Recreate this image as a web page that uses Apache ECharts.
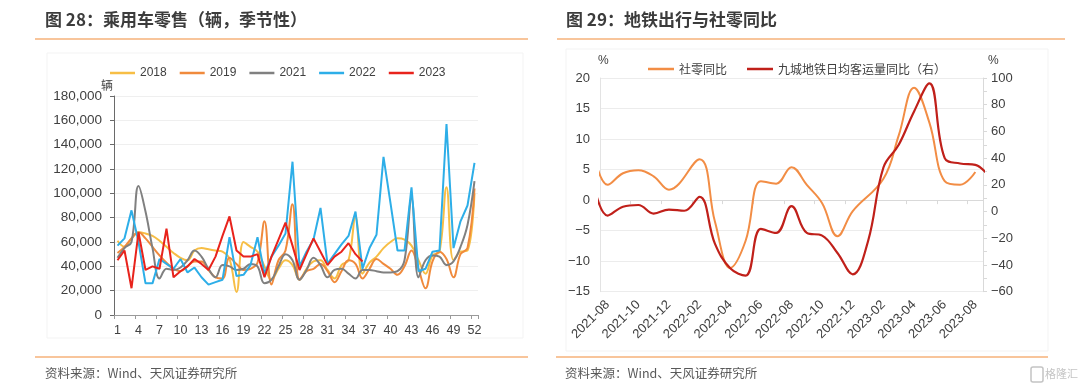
<!DOCTYPE html>
<html><head><meta charset="utf-8">
<script src="https://cdn.jsdelivr.net/npm/echarts@6/dist/echarts.min.js"></script>
<style>html,body{margin:0;padding:0;background:#fff}#c{width:1080px;height:392px}</style>
</head><body><div id="c"></div>
<script>
// ---------- Left chart data (辆) ----------
const weeks = ['1','2','3','4','5','6','7','8','9','10','11','12','13','14','15','16','17','18','19','20','21','22','23','24','25','26','27','28','29','30','31','32','33','34','35','36','37','38','39','40','41','42','43','44','45','46','47','48','49','50','51','52'];
const sales2018 = [61000,56000,63000,68000,67000,65000,61000,56000,51000,47000,45000,53000,55000,54000,53000,52000,46000,19000,60000,56000,52000,40000,29000,38000,45000,41000,29000,38000,44000,45000,37000,30000,41000,45000,81000,34000,43000,48000,55000,60000,63000,62000,57000,45000,34000,49000,52000,105000,45000,52000,53000,100000];
const sales2019 = [51000,56000,63000,68000,63000,56000,49000,43000,38000,36000,40000,44000,44000,37000,31000,30000,47000,42000,37000,38000,43000,77000,25000,45000,53000,91000,29000,36000,38000,42000,36000,27000,36000,45000,42000,30000,38000,46000,42000,38000,33000,40000,53000,38000,22000,44000,52000,46000,31000,50000,55000,104000];
const sales2021 = [47000,55000,60000,106000,85000,55000,30000,38000,37000,39000,45000,53000,48000,38000,31000,41000,40000,37000,38000,42000,40000,26000,29000,40000,50000,45000,29000,37000,47000,41000,31000,37000,38000,34000,30000,37000,37000,36000,35000,35000,36000,45000,96000,31000,45000,49000,48000,41000,44000,56000,74000,110000];
const sales2022 = [57000,63000,86000,60000,26000,26000,46000,42000,38000,46000,35000,39000,31000,25000,27000,29000,64000,32000,33000,41000,64000,34000,48000,57000,67000,126000,40000,52000,62000,88000,42000,50000,58000,65000,85000,38000,55000,66000,130000,92000,53000,53000,105000,36000,38000,52000,53000,157000,55000,77000,90000,125000];
const sales2023 = [45000,53000,22000,68000,37000,40000,38000,71000,31000,36000,40000,46000,42000,37000,48000,65000,81000,53000,48000,48000,50000,31000,48000,62000,76000,57000,37000,50000,63000,52000,41000,48000,52000,59000,50000,44000,null,null,null,null,null,null,null,null,null,null,null,null,null,null,null,null];
const yearNames = ['2018','2019','2021','2022','2023'];

// ---------- Right chart data (%) ----------
const months = ['2021-07','2021-08','2021-09','2021-10','2021-11','2021-12','2022-01','2022-02','2022-03','2022-04','2022-05','2022-06','2022-07','2022-08','2022-09','2022-10','2022-11','2022-12','2023-01','2023-02','2023-03','2023-04','2023-05','2023-06','2023-07','2023-08','2023-09'];
const retailYoY = [8.5,2.5,4.4,4.9,3.9,1.7,null,6.7,-3.5,-11.1,-6.7,3.1,2.7,5.4,2.5,-0.5,-5.9,-1.8,null,3.5,10.6,18.4,12.7,3.1,2.5,4.6];
const metroYoY = [25,-3,3.6,4.9,-1.5,1.5,0.6,11,-24,-42.5,-48,-13,-16,4,-16,-18,-31,-47,-22,33,50,75,96,40,36,35,25];
const labelIdx = [1,3,5,7,9,11,13,15,17,19,21,23,25];
const tickIdx = [0.5,2.5,4.5,6.5,8.5,10.5,12.5,14.5,16.5,18.5,20.5,22.5,24.5];

const FONT = '"Liberation Sans", Arial, "Noto Sans CJK SC", sans-serif';
const CJK = '"Noto Sans CJK SC", sans-serif';
const TXT = '#404040';

const yearColors = ['#F7BE45','#F08A3C','#808080','#2DAEE8','#E8231C'];
const yearData = [sales2018, sales2019, sales2021, sales2022, sales2023];
const yearSmooth = [0.4, 0.4, 0.4, false, false];

const leftSeries = yearNames.map((n, i) => ({
  name: n, type: 'line', xAxisIndex: 0, yAxisIndex: 0,
  data: yearData[i], smooth: yearSmooth[i], showSymbol: false, symbol: 'none',
  lineStyle: { color: yearColors[i], width: 2 }, itemStyle: { color: yearColors[i] },
  z: i + 2
}));

const toPairs = arr => arr.map((v, i) => [i, v]);
const minusFmt = v => v < 0 ? '\u2212' + (-v) : String(v);

const chart = echarts.init(document.getElementById('c'), null, { renderer: 'canvas' });
chart.setOption({
  animation: false,
  backgroundColor: '#fff',
  textStyle: { fontFamily: FONT },
  grid: [
    { left: 114, width: 364, top: 96, height: 219 },
    { left: 600, width: 383, top: 78, height: 213.7 }
  ],
  legend: [
    { data: yearNames, left: 105, top: 62, icon: 'rect', itemWidth: 25, itemHeight: 2.5, itemGap: 13,
      textStyle: { color: TXT, fontSize: 12, fontFamily: FONT } },
    { data: ['社零同比','九城地铁日均客运量同比（右）'], left: 643, top: 58, icon: 'rect', itemWidth: 26, itemHeight: 2.5, itemGap: 20,
      textStyle: { color: TXT, fontSize: 12, fontFamily: CJK } }
  ],
  xAxis: [
    { type: 'category', gridIndex: 0, data: weeks, boundaryGap: true,
      axisLine: { lineStyle: { color: '#9a9a9a', width: 1 } },
      axisTick: { show: true, interval: 2, length: 4, lineStyle: { color: '#9a9a9a' } },
      axisLabel: { interval: 2, color: TXT, fontSize: 12.5, margin: 9 },
      splitLine: { show: false } },
    { type: 'value', gridIndex: 1, min: 0.5, max: 25.5,
      axisLine: { show: false, onZero: false }, axisTick: { show: false },
      splitLine: { show: false },
      axisLabel: { customValues: labelIdx, rotate: 45, color: TXT, fontSize: 13, margin: 11,
        formatter: v => months[Math.round(v)] } },
    { type: 'value', gridIndex: 1, min: 0.5, max: 25.5, position: 'bottom',
      axisLine: { show: true, onZero: true, onZeroAxisIndex: 1, lineStyle: { color: '#d9d9d9' } },
      axisTick: { show: true, customValues: tickIdx, length: 4, lineStyle: { color: '#d9d9d9' } },
      axisLabel: { show: false }, splitLine: { show: false } }
  ],
  yAxis: [
    { type: 'value', gridIndex: 0, min: 0, max: 180000, interval: 20000,
      axisLine: { show: true, lineStyle: { color: '#6a6a6a' } },
      axisTick: { show: true, length: 4, lineStyle: { color: '#6a6a6a' } },
      axisLabel: { color: TXT, fontSize: 13.5, margin: 12, formatter: v => v.toLocaleString('en-US') },
      splitLine: { show: true, lineStyle: { color: '#efefef' } } },
    { type: 'value', gridIndex: 1, min: -15, max: 20, interval: 5,
      axisLine: { show: true, onZero: false, lineStyle: { color: '#e3e3e3' } },
      axisTick: { show: false },
      axisLabel: { color: TXT, fontSize: 13, margin: 10, formatter: minusFmt },
      splitLine: { show: true, lineStyle: { color: '#ececec' } } },
    { type: 'value', gridIndex: 1, position: 'right', min: -60, max: 100, interval: 20,
      axisLine: { show: true, onZero: false, lineStyle: { color: '#d9d9d9' } },
      axisTick: { show: true, length: 4, lineStyle: { color: '#d9d9d9' } },
      minorTick: { show: true, splitNumber: 2, length: 4, lineStyle: { color: '#d9d9d9' } },
      axisLabel: { color: TXT, fontSize: 13, margin: 8, formatter: minusFmt },
      splitLine: { show: false } }
  ],
  series: leftSeries.concat([
    { name: '社零同比', type: 'line', xAxisIndex: 1, yAxisIndex: 1, data: toPairs(retailYoY),
      smooth: 0.4, connectNulls: true, showSymbol: false, symbol: 'none', clip: true,
      lineStyle: { color: '#F28D45', width: 2 }, itemStyle: { color: '#F28D45' }, z: 3 },
    { name: '九城地铁日均客运量同比（右）', type: 'line', xAxisIndex: 1, yAxisIndex: 2, data: toPairs(metroYoY),
      smooth: 0.4, showSymbol: false, symbol: 'none', clip: true,
      lineStyle: { color: '#C0201A', width: 2.2 }, itemStyle: { color: '#C0201A' }, z: 4 }
  ]),
  graphic: [
    { type: 'rect', shape: { x: 47, y: 53, width: 476, height: 285 }, style: { fill: 'none', stroke: '#f3f3f3', lineWidth: 1 }, silent: true, z: -1 },
    { type: 'rect', shape: { x: 566, y: 49, width: 482, height: 302 }, style: { fill: 'none', stroke: '#f3f3f3', lineWidth: 1 }, silent: true, z: -1 },
    { type: 'text', left: 45, top: 11, style: { text: '图 28：乘用车零售（辆，季节性）', fill: '#3c3c3c', font: 'bold 17px ' + CJK } },
    { type: 'text', left: 566, top: 11, style: { text: '图 29：地铁出行与社零同比', fill: '#3c3c3c', font: 'bold 17px ' + CJK } },
    { type: 'line', shape: { x1: 35, y1: 39, x2: 528, y2: 39 }, style: { stroke: '#F6B27A', lineWidth: 1.5 } },
    { type: 'line', shape: { x1: 557, y1: 39, x2: 1065, y2: 39 }, style: { stroke: '#F6B27A', lineWidth: 1.5 } },
    { type: 'line', shape: { x1: 35, y1: 357, x2: 528, y2: 357 }, style: { stroke: '#F6B27A', lineWidth: 1.5 } },
    { type: 'line', shape: { x1: 556, y1: 357, x2: 1048, y2: 357 }, style: { stroke: '#F6B27A', lineWidth: 1.5 } },
    { type: 'text', left: 45, top: 367, style: { text: '资料来源：Wind、天风证券研究所', fill: '#595959', font: '12.5px ' + CJK } },
    { type: 'text', left: 565, top: 367, style: { text: '资料来源：Wind、天风证券研究所', fill: '#595959', font: '12.5px ' + CJK } },
    { type: 'text', left: 101, top: 79, style: { text: '辆', fill: TXT, font: '12px ' + CJK } },
    { type: 'text', left: 598, top: 55, style: { text: '%', fill: TXT, font: '12px ' + FONT } },
    { type: 'text', left: 988, top: 55, style: { text: '%', fill: TXT, font: '12px ' + FONT } },
    { type: 'rect', shape: { x: 1031, y: 367, width: 12, height: 15, r: 2 }, style: { fill: 'none', stroke: '#c4c4c4', lineWidth: 1.5 } },
    { type: 'text', left: 1045, top: 368, style: { text: '格隆汇', fill: '#c4c4c4', font: '11px ' + CJK } }
  ]
});
</script>
</body></html>
